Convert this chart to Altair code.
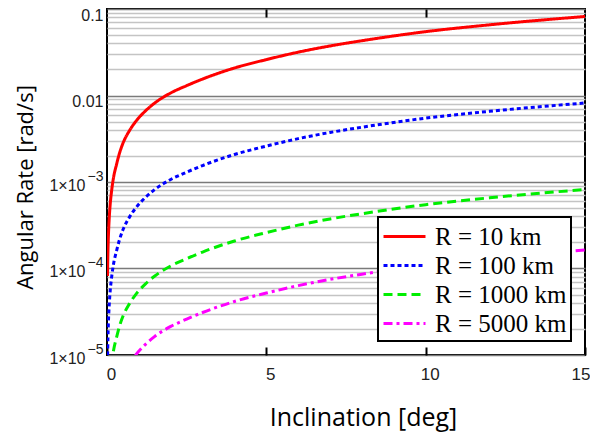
import altair as alt
import pandas as pd

# Inclination values (deg) where curves were read
x_deg = [0.015, 0.03, 0.05, 0.075, 0.1, 0.15, 0.2, 0.3, 0.4, 0.5, 0.7, 0.9, 1.2, 1.5,
         2, 2.5, 3, 4, 5, 6, 7, 8, 10, 12, 15]

# Angular rate [rad/s] for each radius
rate_10km = [8.2e-5, 1.6e-4, 2.7e-4, 4.1e-4, 5.5e-4, 8.2e-4, 1.1e-3, 1.6e-3, 2.2e-3, 2.8e-3,
             3.9e-3, 5.0e-3, 6.6e-3, 8.2e-3, 1.07e-2, 1.3e-2, 1.55e-2, 2.08e-2, 2.6e-2,
             3.17e-2, 3.74e-2, 4.3e-2, 5.47e-2, 6.56e-2, 8.2e-2]
rate_100km = [8.2e-6, 1.6e-5, 2.7e-5, 4.1e-5, 5.5e-5, 8.2e-5, 1.1e-4, 1.6e-4, 2.2e-4, 2.8e-4,
              3.9e-4, 5.0e-4, 6.6e-4, 8.2e-4, 1.07e-3, 1.3e-3, 1.55e-3, 2.08e-3, 2.6e-3,
              3.17e-3, 3.74e-3, 4.3e-3, 5.47e-3, 6.56e-3, 8.2e-3]
rate_1000km = [8.2e-7, 1.6e-6, 2.7e-6, 4.1e-6, 5.5e-6, 8.2e-6, 1.1e-5, 1.6e-5, 2.2e-5, 2.8e-5,
               3.9e-5, 5.0e-5, 6.6e-5, 8.2e-5, 1.07e-4, 1.3e-4, 1.55e-4, 2.08e-4, 2.6e-4,
               3.17e-4, 3.74e-4, 4.3e-4, 5.47e-4, 6.56e-4, 8.2e-4]
rate_5000km = [1.6e-7, 3.2e-7, 5.4e-7, 8.2e-7, 1.1e-6, 1.6e-6, 2.2e-6, 3.2e-6, 4.4e-6, 5.6e-6,
               7.8e-6, 1.0e-5, 1.32e-5, 1.64e-5, 2.14e-5, 2.6e-5, 3.1e-5, 4.16e-5, 5.2e-5,
               6.34e-5, 7.48e-5, 8.6e-5, 1.09e-4, 1.31e-4, 1.64e-4]

series_names = ["R = 10 km", "R = 100 km", "R = 1000 km", "R = 5000 km"]
series_colors = ["#ff0000", "#0000ff", "#00ee00", "#ff00ff"]
series_dashes = [[1, 0], [4, 3], [9, 5], [9, 4, 3, 4]]

x_ticks = [0, 5, 10, 15]
y_decades = [0.1, 0.01, 0.001, 0.0001, 0.00001]
y_grid = y_decades + [round(m * 10.0 ** e, 12) for e in range(-5, -1) for m in range(2, 10)]

rows = []
for name, vals in zip(series_names, [rate_10km, rate_100km, rate_1000km, rate_5000km]):
    for xv, yv in zip(x_deg, vals):
        rows.append({"x": xv, "y": yv, "series": name})
df = pd.DataFrame(rows)

x_scale = alt.Scale(domain=[0, 15], nice=False)
y_scale = alt.Scale(type="log", domain=[1e-5, 0.1], nice=False)

label_expr = "datum.value === 0.1 ? '0.1' : datum.value === 0.01 ? '0.01' : ''"
mant_expr = "'1×10'"
exp_expr = ("datum.value === 0.001 ? '−3' : datum.value === 0.0001 ? '−4' : "
            "datum.value === 0.00001 ? '−5' : ''")

legend_kw = dict(orient="none", legendX=271, legendY=208, title=None,
                 strokeColor="black", fillColor="white", padding=4,
                 labelFont="Liberation Serif", labelFontSize=25, labelColor="black",
                 symbolType="M-1.5,0L1.5,0", symbolSize=784, symbolStrokeWidth=3,
                 symbolOffset=7, rowPadding=0, labelOffset=15, labelLimit=300)

label_font = dict(labelFont="Liberation Sans", labelColor="#222222",
                  labelOverlap=False, labelFlush=False)

base = alt.Chart(df)

lines = base.mark_line(clip=True, strokeWidth=3, interpolate="monotone").encode(
    x=alt.X("x:Q", scale=x_scale, axis=alt.Axis(
        orient="bottom", values=x_ticks, ticks=True, tickSize=8, tickWidth=2,
        tickColor="black", offset=-8, domain=False, grid=False,
        labelFontSize=17, labelPadding=11,
        labelOffset={"condition": {"test": "datum.value === 15", "value": 5}, "value": 4},
        labelAlign={"condition": {"test": "datum.value === 15", "value": "right"}, "value": "center"},
        title="Inclination [deg]", titleFont="Open Sans", titleFontSize=25,
        titleFontWeight="normal", titleColor="black",
        titleX=256, titleY=70, titleAlign="center", titleBaseline="middle", **label_font)),
    y=alt.Y("y:Q", scale=y_scale, axis=alt.Axis(
        values=y_grid, labelExpr=label_expr, ticks=False, domain=False, grid=True,
        gridColor={"condition": {"test": "indexof([0.1, 0.01, 0.001, 0.0001, 0.00001], datum.value) >= 0",
                                 "value": "#7a7a7a"}, "value": "#c4c4c4"},
        gridWidth=1.5, labelFontSize=16, labelPadding=4, labelOffset=-2, labelBaseline="top",
        title="Angular Rate [rad/s]", titleFont="Open Sans", titleFontSize=22,
        titleFontWeight="normal", titleColor="black",
        titleX=-82, titleY=178, titleAlign="center", titleBaseline="middle", titleAngle=270,
        **label_font)),
    color=alt.Color("series:N", sort=series_names,
                    scale=alt.Scale(domain=series_names, range=series_colors),
                    legend=alt.Legend(**legend_kw)),
    strokeDash=alt.StrokeDash("series:N", sort=series_names,
                              scale=alt.Scale(domain=series_names, range=series_dashes),
                              legend=alt.Legend(**legend_kw)),
)

tick_top = base.mark_point(opacity=0, clip=True).encode(
    x=alt.X("x:Q", scale=x_scale, axis=alt.Axis(
        orient="top", values=[5, 10], offset=-8, tickSize=8, tickWidth=2,
        tickColor="black", labels=False, domain=False, grid=False, title=None)),
)

mantissas = base.mark_point(opacity=0, clip=True).encode(
    y=alt.Y("y:Q", scale=y_scale, axis=alt.Axis(
        orient="left", values=y_decades[2:], labelExpr=mant_expr, ticks=False,
        domain=False, grid=False, labelFontSize=16, labelPadding=22, labelOffset=3,
        labelBaseline="middle", title=None, **label_font)),
)

exponents = base.mark_point(opacity=0, clip=True).encode(
    y=alt.Y("y:Q", scale=y_scale, axis=alt.Axis(
        orient="left", values=y_decades[2:], labelExpr=exp_expr, ticks=False,
        domain=False, grid=False, labelFontSize=14, labelPadding=4, labelOffset=-6,
        labelBaseline="middle", title=None, **label_font)),
)

chart = alt.layer(lines, tick_top, mantissas, exponents).resolve_axis(
    x="independent", y="independent"
).properties(
    width=478, height=346,
    autosize=alt.AutoSizeParams(type="none"),
    padding={"left": 99, "top": 1, "right": 5, "bottom": 80},
).configure(background="white",
            view=alt.ViewConfig(stroke="black", strokeWidth=2),
            legend=alt.LegendConfig(strokeWidth=2))

chart.save("out.html", embed_options={"renderer": "svg", "actions": False})
